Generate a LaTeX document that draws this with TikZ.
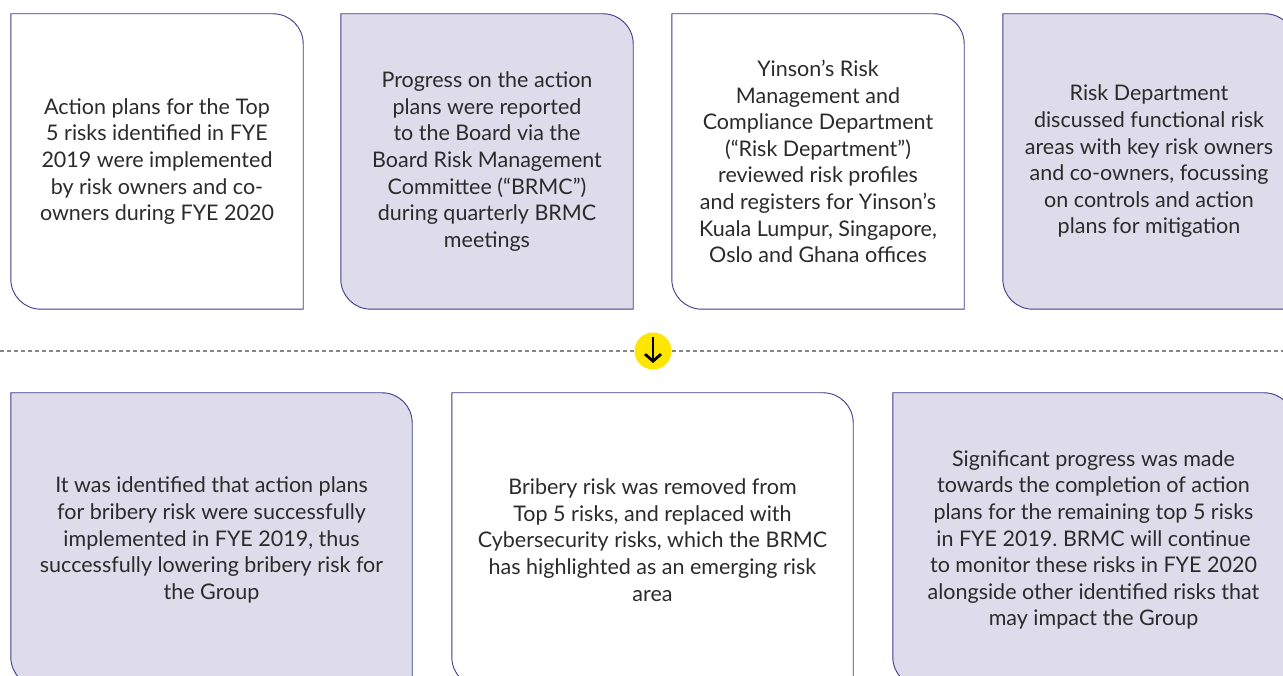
\documentclass[tikz,border=0pt]{standalone}
\usepackage{fontspec}
\setmainfont{Lato}
\frenchspacing
\usetikzlibrary{arrows.meta, positioning, backgrounds}
\definecolor{rim}{HTML}{3E3C8C}
\definecolor{lav}{HTML}{DEDCEA}
\definecolor{txt}{HTML}{2B2B2B}
\definecolor{hilite}{HTML}{FFE600}
\definecolor{dashgray}{HTML}{858585}
% outline with two rounded corners (top right, bottom left)
\newcommand{\riskoutline}[2]{%
  \draw[line width=0.9pt, draw=rim, fill=#2] (#1.north west) -- ([xshift=-30pt]#1.north east)
    arc[start angle=90, end angle=0, radius=30pt] -- (#1.south east)
    -- ([xshift=30pt]#1.south west) arc[start angle=270, end angle=180, radius=30pt] -- cycle;}

\begin{document}
\begin{tikzpicture}[x=1pt, y=1pt,
  riskbox/.style={minimum width=292pt, minimum height=295pt, inner sep=0pt, align=center,
    text=txt, font=\fontsize{21.5}{26.6}\selectfont},
  widebox/.style={riskbox, minimum width=401pt, minimum height=294pt}]
  \useasboundingbox (0,0) rectangle (1283,675);
  \clip (0,0) rectangle (1283,675);

  % top row
  \node[riskbox] (plans) at (157,513.5) {Action plans for the Top\\5 risks identified in FYE\\2019 were implemented\\by risk owners and co-\\owners during FYE 2020};
  \node[riskbox] (progress) at (487,513.5) {Progress on the action\\plans were reported\\to the Board via the\\Board Risk Management\\Committee (“BRMC”)\\during quarterly BRMC\\meetings};
  \node[riskbox] (review) at (818,513.5) {Yinson’s Risk\\Management and\\Compliance Department\\(“Risk Department”)\\reviewed risk profiles\\and registers for Yinson’s\\Kuala Lumpur, Singapore,\\Oslo and Ghana offices};
  \node[riskbox] (discuss) at (1149,513.5) {Risk Department\\discussed functional risk\\areas with key risk owners\\and co-owners, focussing\\on controls and action\\plans for mitigation};

  % bottom row
  \node[widebox] (bribery) at (211.5,135) {It was identified that action plans\\for bribery risk were successfully\\implemented in FYE 2019, thus\\successfully lowering bribery risk for\\the Group};
  \node[widebox] (cyber) at (652.5,135) {Bribery risk was removed from\\Top 5 risks, and replaced with\\Cybersecurity risks, which the BRMC\\has highlighted as an emerging risk\\area};
  \node[widebox] (monitor) at (1093.5,135) {Significant progress was made\\towards the completion of action\\plans for the remaining top 5 risks\\in FYE 2019. BRMC will continue\\to monitor these risks in FYE 2020\\alongside other identified risks that\\may impact the Group};

  \begin{scope}[on background layer]
    \riskoutline{plans}{white}
    \riskoutline{progress}{lav}
    \riskoutline{review}{white}
    \riskoutline{discuss}{lav}
    \riskoutline{bribery}{lav}
    \riskoutline{cyber}{white}
    \riskoutline{monitor}{lav}
  \end{scope}

  % divider and arrow
  \coordinate (lineL) at (0,324);
  \coordinate (lineR) at (1283,324);
  \draw[dashgray, line width=1.5pt, dash pattern=on 4pt off 3pt] (lineL) -- (lineR);
  \node[circle, fill=hilite, minimum size=37pt, inner sep=0pt] (down) at (653,324) {};
  \draw[line width=2.8pt, -{Straight Barb[length=7pt, width=16pt]}] ([yshift=14pt]down.center) -- ([yshift=-12pt]down.center);
\end{tikzpicture}
\end{document}
